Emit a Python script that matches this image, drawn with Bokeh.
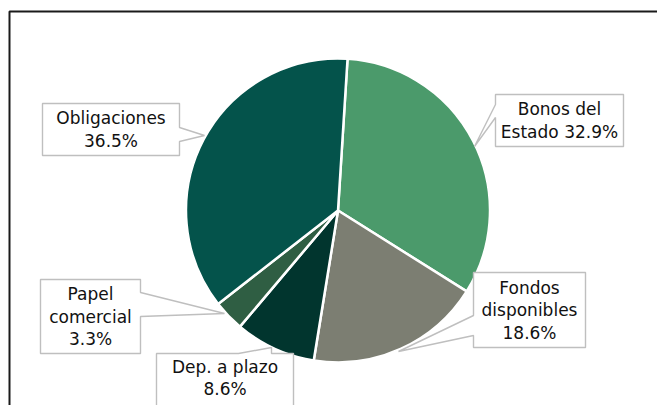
import math
from bokeh.plotting import figure
from bokeh.models import Range1d, ColumnDataSource
from bokeh.core.properties import value
from bokeh.embed import file_html
from bokeh.resources import INLINE

# ---- data ----
categories = ["Bonos del Estado", "Fondos disponibles", "Dep. a plazo", "Papel comercial", "Obligaciones"]
shares = [32.9, 18.6, 8.6, 3.3, 36.5]
label_lines = [
    ["Bonos del", "Estado 32.9%"],
    ["Fondos", "disponibles", "18.6%"],
    ["Dep. a plazo", "8.6%"],
    ["Papel", "comercial", "3.3%"],
    ["Obligaciones", "36.5%"],
]
colors = ["#4b9a6b", "#7c7e72", "#01352e", "#2f5e43", "#04534b"]

# ---- layout (pixel coords, y down) ----
W, H = 657, 405
CX, CY, R = 337.5, 210, 152
OFFSET_DEG = 3.6
# box: (left, top, right, bottom), pointer side, base pair, tip
callouts = [
    dict(box=(495, 94, 623, 146), side="left", base=(104, 117), tip=(474, 146)),
    dict(box=(473, 272, 585, 347), side="left", base=(315, 335), tip=(398, 351)),
    dict(box=(156, 353, 293, 412), side="top", base=(238, 271), tip=(271, 347)),
    dict(box=(40, 279, 140, 353), side="right", base=(292, 316), tip=(224, 313)),
    dict(box=(42, 103, 179, 155), side="right", base=(127, 141), tip=(204, 135)),
]
LINE_H = 22.5

p = figure(width=W, height=H, x_range=Range1d(0, W), y_range=Range1d(0, H),
           output_backend="svg", toolbar_location=None, min_border=0)
p.axis.visible = False
p.grid.visible = False
p.outline_line_color = None
p.background_fill_color = "white"
p.border_fill_color = "white"

# pie
total = sum(shares)
starts, ends = [], []
cum = 0.0
for s in shares:
    a0 = math.pi / 2 - math.radians(OFFSET_DEG) - 2 * math.pi * cum / total
    cum += s
    a1 = math.pi / 2 - math.radians(OFFSET_DEG) - 2 * math.pi * cum / total
    starts.append(a0)
    ends.append(a1)
src = ColumnDataSource(dict(start=starts, end=ends, color=colors, cat=categories))
p.wedge(x=CX, y=H - CY, radius=R, start_angle="start", end_angle="end",
        direction="clock", fill_color="color", line_color="white", line_width=2.5, source=src)

# callouts
def poly(c):
    l, t, r, b = c["box"]
    b1, b2 = c["base"]
    tx, ty = c["tip"]
    side = c["side"]
    pts = [(l, t)]
    if side == "top":
        pts += [(b1, t), (tx, ty), (b2, t)]
    pts += [(r, t)]
    if side == "right":
        pts += [(r, b1), (tx, ty), (r, b2)]
    pts += [(r, b), (l, b)]
    if side == "left":
        pts += [(l, b2), (tx, ty), (l, b1)]
    return [q[0] for q in pts], [H - q[1] for q in pts]

xs, ys = [], []
for c in callouts:
    x, y = poly(c)
    xs.append(x)
    ys.append(y)
p.patches(xs, ys, fill_color="white", line_color="#bfbfbf", line_width=1.4)

# label texts
tx, ty, tt = [], [], []
for c, lines in zip(callouts, label_lines):
    l, t, r, b = c["box"]
    if b > H:
        b = 402
    mx, my = (l + r) / 2, (t + b) / 2
    n = len(lines)
    for i, ln in enumerate(lines):
        tx.append(mx)
        ty.append(H - (my + (i - (n - 1) / 2) * LINE_H))
        tt.append(ln)
p.text(tx, ty, text=tt, text_font=value("DejaVu Sans"), text_font_size="17px",
       text_align="center", text_baseline="middle", text_color="#111111")

# outer frame (left & top only visible)
p.line([9, 9, W + 5], [-5, H - 11, H - 11], line_color="#1a1a1a", line_width=2)

open("out.html", "w").write(file_html(p, INLINE))
